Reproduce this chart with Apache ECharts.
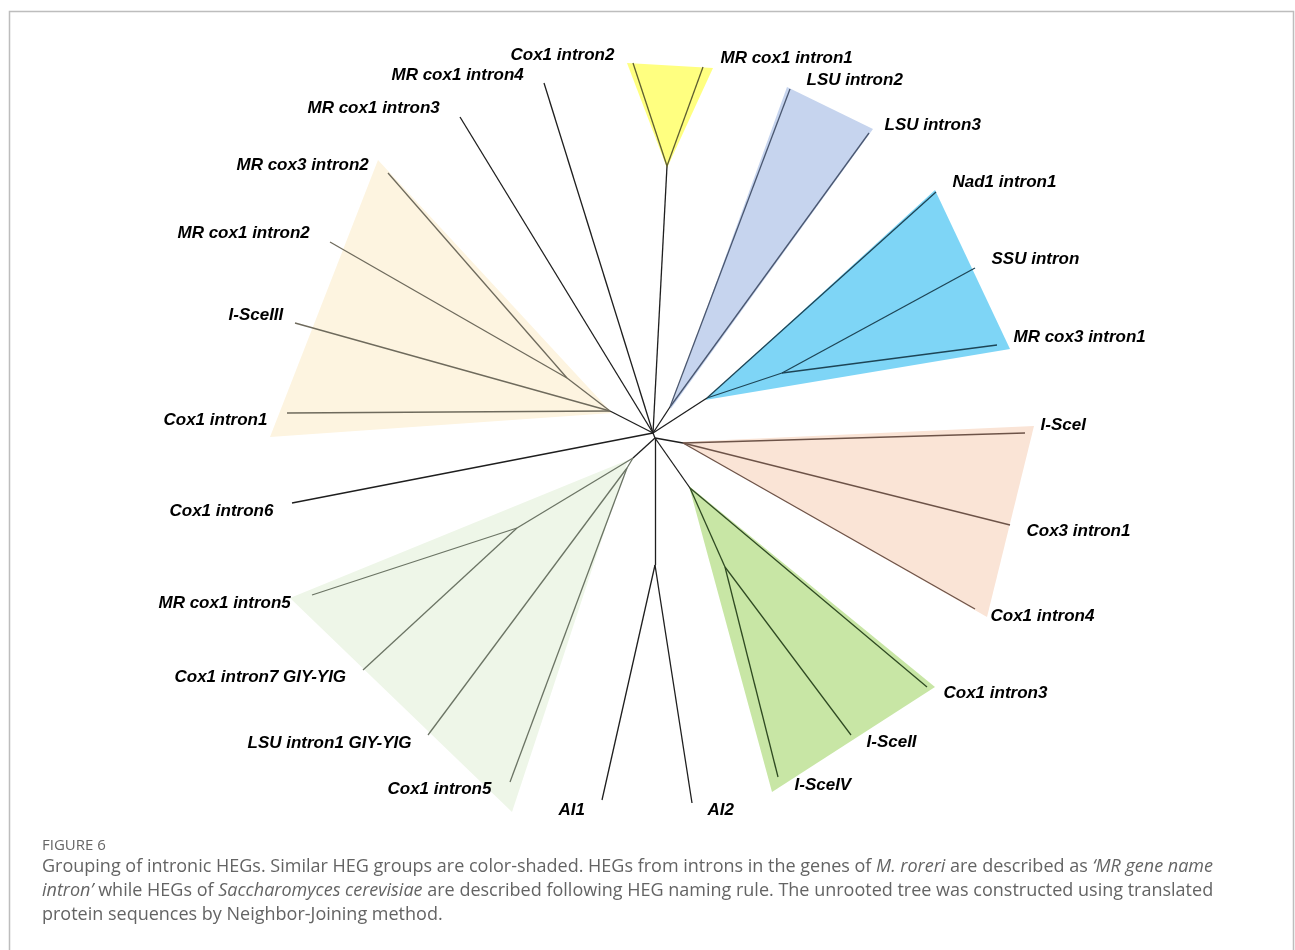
<!DOCTYPE html>
<html>
<head>
<meta charset="utf-8">
<title>Figure 6 - intronic HEGs</title>
<script src="https://cdn.jsdelivr.net/npm/echarts@6/dist/echarts.min.js"></script>
<style>
    html, body { margin: 0; padding: 0; background: #fff; }
    #hegTree { width: 1295px; height: 950px; }
</style>
</head>
<body>
<div id="hegTree"></div>
<script>
    // node layout of the unrooted NJ tree (origin = central node, y up)
    let nodeIds = ['hub', 'hubLow', 'yellowNode', 'lavNode', 'cyanNode', 'cyanSub', 'creamNode', 'creamSub',
        'peachNode', 'greenNode', 'greenSub', 'lgNode', 'lgSubA', 'lgSubB', 'aiNode',
        'Cox1 intron2', 'MR cox1 intron1', 'MR cox1 intron4', 'MR cox1 intron3', 'LSU intron2', 'LSU intron3',
        'Nad1 intron1', 'SSU intron', 'MR cox3 intron1', 'MR cox3 intron2', 'MR cox1 intron2', 'I-SceIII',
        'Cox1 intron1', 'Cox1 intron6', 'I-SceI', 'Cox3 intron1', 'Cox1 intron4', 'Cox1 intron3', 'I-SceII',
        'I-SceIV', 'MR cox1 intron5', 'Cox1 intron7 GIY-YIG', 'LSU intron1 GIY-YIG', 'Cox1 intron5', 'AI1', 'AI2'];
    let nodeX = [0, 2, 14, 17, 54, 129, -43, -86, 30, 37, 72, -20, -136, -26, 2,
        -20, 50, -109, -193, 137, 216, 283, 322, 344, -265, -323, -358, -366, -361,
        372, 357, 322, 274, 198, 125, -341, -290, -225, -143, -51, 39];
    let nodeY = [0, -5, 267, 26, 35, 60, 22, 55, -10, -55, -134, -25, -95, -35, -132,
        370, 366, 350, 316, 344, 300, 241, 165, 88, 260, 191, 110, 20, -70,
        0, -92, -176, -254, -302, -344, -162, -237, -302, -349, -367, -370];

    // branches: parent -> child, and the shaded group the branch sits in
    let edges = [
        ['hub', 'hubLow', ''], ['hub', 'yellowNode', ''],
        ['yellowNode', 'Cox1 intron2', 'yellow'], ['yellowNode', 'MR cox1 intron1', 'yellow'],
        ['hub', 'MR cox1 intron4', ''], ['hub', 'MR cox1 intron3', ''],
        ['hub', 'lavNode', ''], ['lavNode', 'LSU intron2', 'lav'], ['lavNode', 'LSU intron3', 'lav'],
        ['hub', 'cyanNode', ''], ['cyanNode', 'Nad1 intron1', 'cyan'], ['cyanNode', 'cyanSub', 'cyan'],
        ['cyanSub', 'SSU intron', 'cyan'], ['cyanSub', 'MR cox3 intron1', 'cyan'],
        ['hub', 'creamNode', ''], ['creamNode', 'creamSub', 'cream'],
        ['creamSub', 'MR cox3 intron2', 'cream'], ['creamSub', 'MR cox1 intron2', 'cream'],
        ['creamNode', 'I-SceIII', 'cream'], ['creamNode', 'Cox1 intron1', 'cream'],
        ['hub', 'Cox1 intron6', ''],
        ['hubLow', 'peachNode', ''], ['peachNode', 'I-SceI', 'peach'],
        ['peachNode', 'Cox3 intron1', 'peach'], ['peachNode', 'Cox1 intron4', 'peach'],
        ['hubLow', 'greenNode', ''], ['greenNode', 'Cox1 intron3', 'green'], ['greenNode', 'greenSub', 'green'],
        ['greenSub', 'I-SceII', 'green'], ['greenSub', 'I-SceIV', 'green'],
        ['hubLow', 'lgNode', ''], ['lgNode', 'lgSubA', 'lightgreen'],
        ['lgSubA', 'MR cox1 intron5', 'lightgreen'], ['lgSubA', 'Cox1 intron7 GIY-YIG', 'lightgreen'],
        ['lgNode', 'lgSubB', 'lightgreen'], ['lgSubB', 'LSU intron1 GIY-YIG', 'lightgreen'],
        ['lgSubB', 'Cox1 intron5', 'lightgreen'],
        ['hubLow', 'aiNode', ''], ['aiNode', 'AI1', ''], ['aiNode', 'AI2', '']
    ];

    // shaded HEG groups (triangle corners)
    let shadeGroups = ['yellow', 'lav', 'cyan', 'cream', 'peach', 'green', 'lightgreen'];
    let shadeShapes = [
        [[-26, 370], [60, 365], [14, 265]],
        [[17, 23], [134, 346], [220, 304]],
        [[52, 33], [282, 243], [357, 84]],
        [[-41, 20], [-275, 273], [-383, -4]],
        [[28, -9], [381, 7], [334, -184]],
        [[36, -53], [282, -254], [119, -359]],
        [[-25, -27], [-363, -165], [-141, -379]]
    ];

    // leaf labels (left edge, middle)
    let labelNames = ['Cox1 intron2', 'MR cox1 intron1', 'MR cox1 intron4', 'LSU intron2', 'MR cox1 intron3',
        'LSU intron3', 'MR cox3 intron2', 'Nad1 intron1', 'MR cox1 intron2', 'SSU intron', 'I-SceIII',
        'MR cox3 intron1', 'Cox1 intron1', 'I-SceI', 'Cox1 intron6', 'Cox3 intron1', 'MR cox1 intron5',
        'Cox1 intron4', 'Cox1 intron7 GIY-YIG', 'Cox1 intron3', 'LSU intron1 GIY-YIG', 'I-SceII',
        'Cox1 intron5', 'I-SceIV', 'AI1', 'AI2'];
    let labelX = [-143, 67, -262, 153, -346, 231, -417, 299, -476, 338, -425, 360, -490, 387, -484, 373,
        -495, 337, -479, 290, -406, 213, -266, 141, -95, 54];
    let labelY = [378, 375, 358, 353, 325, 308, 268, 251, 200, 174, 118, 96, 13, 8, -78, -98,
        -170, -183, -244, -260, -310, -309, -356, -352, -377, -377];

    let shadeColors = {
        yellow: '#ffff80', lav: '#c6d4ee', cyan: '#7ed5f6', cream: '#fdf4e0',
        peach: '#fae4d6', green: '#c8e6a5', lightgreen: '#eef6e8'
    };
    let branchColors = {
        '': '#1e1e1e', yellow: '#5f5f30', lav: '#4a5770', cyan: '#1d4556', cream: '#6e6a5c',
        peach: '#6d5348', green: '#2f4a22', lightgreen: '#6b7464'
    };

    function nodePos(id) {
        let i = nodeIds.indexOf(id);
        return [nodeX[i], nodeY[i]];
    }

    let myChart = echarts.init(document.getElementById('hegTree'));

    let lineData = edges.map(e => ({
        coords: [nodePos(e[0]), nodePos(e[1])],
        lineStyle: {color: branchColors[e[2]]}
    }));

    let labelData = labelNames.map((n, i) => ({name: n, value: [labelX[i], labelY[i]]}));

    let capFont = '"Open Sans", "Noto Sans", sans-serif';
    let capRich = {i: {fontStyle: 'italic', fontSize: 18, fontFamily: capFont, fill: '#646464'}};

    let option = {
        animation: false,
        grid: {left: 0, right: 0, top: 0, bottom: 0},
        xAxis: {type: 'value', min: -653, max: 642, show: false},
        yAxis: {type: 'value', min: -517, max: 433, show: false},
        series: [
            {
                type: 'custom',
                z: 1,
                silent: true,
                data: shadeGroups.map((g, i) => ({name: g, value: shadeShapes[i][0]})),
                renderItem: function (params, api) {
                    let pts = shadeShapes[params.dataIndex].map(p => api.coord(p));
                    return {
                        type: 'polygon',
                        shape: {points: pts},
                        style: {fill: shadeColors[shadeGroups[params.dataIndex]]}
                    };
                }
            },
            {
                type: 'lines',
                coordinateSystem: 'cartesian2d',
                z: 2,
                silent: true,
                lineStyle: {width: 1.3, opacity: 1},
                data: lineData
            },
            {
                type: 'scatter',
                z: 3,
                silent: true,
                symbolSize: 1,
                itemStyle: {color: '#fff', opacity: 1},
                label: {
                    show: true,
                    position: 'right',
                    distance: 0,
                    formatter: '{b}',
                    fontFamily: 'Arial',
                    fontStyle: 'italic',
                    fontWeight: 'bold',
                    fontSize: 17,
                    color: '#000',
                    opacity: 1,
                    textBorderWidth: 0
                },
                data: labelData
            }
        ],
        graphic: [
            {
                type: 'rect', silent: true, z: 10,
                shape: {x: 9.5, y: 11.5, width: 1284, height: 1000},
                style: {fill: 'none', stroke: '#bdbdbd', lineWidth: 1.5}
            },
            {
                type: 'text', left: 42, top: 838, z: 10,
                style: {text: 'FIGURE 6', font: '15px ' + capFont, fill: '#666'}
            },
            {
                type: 'text', left: 42, top: 858, z: 10,
                style: {
                    text: 'Grouping of intronic HEGs. Similar HEG groups are color-shaded. HEGs from introns in the genes of {i|M. roreri} are described as {i|\u2018MR gene name}',
                    font: '18px ' + capFont, fill: '#646464', rich: capRich
                }
            },
            {
                type: 'text', left: 42, top: 882, z: 10,
                style: {
                    text: '{i|intron\u2019} while HEGs of {i|Saccharomyces cerevisiae} are described following HEG naming rule. The unrooted tree was constructed using translated',
                    font: '18px ' + capFont, fill: '#646464', rich: capRich
                }
            },
            {
                type: 'text', left: 42, top: 906, z: 10,
                style: {text: 'protein sequences by Neighbor-Joining method.', font: '18px ' + capFont, fill: '#646464'}
            }
        ]
    };

    myChart.setOption(option);
</script>
</body>
</html>
